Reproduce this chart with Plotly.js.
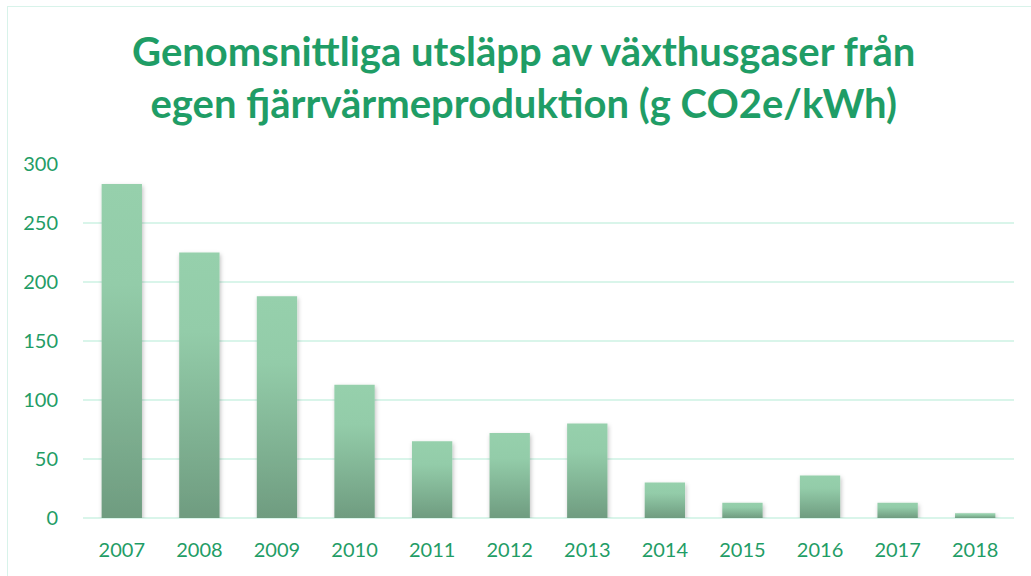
<!DOCTYPE html>
<html>
<head>
<meta charset="utf-8">
<script src="https://cdn.plot.ly/plotly-3.0.1.min.js"></script>
<style>
html,body{margin:0;padding:0;background:#fff;}
#wrap{position:relative;width:1031px;height:576px;overflow:hidden;}
#frame{position:absolute;left:7px;top:6px;width:1040px;height:600px;border:1.5px solid #d8f3ea;box-sizing:border-box;pointer-events:none;}
#chart{position:absolute;left:0;top:0;width:1031px;height:576px;}
</style>
</head>
<body>
<div id="wrap"><div id="chart"></div><div id="frame"></div></div>
<script>
const years = ['2007','2008','2009','2010','2011','2012','2013','2014','2015','2016','2017','2018'];
const emissions = [283, 225, 188, 113, 65, 72, 80, 30, 13, 36, 13, 4];
const yTicks = [0, 50, 100, 150, 200, 250, 300];
const titleText = 'Genomsnittliga utsläpp av växthusgaser från<br>egen fjärrvärmeproduktion (g CO2e/kWh)';

const green = '#1f9d66';
const trace = {
  type: 'bar',
  x: years,
  y: emissions,
  marker: {color: '#86c2a0', line: {width: 0}},
  hoverinfo: 'x+y'
};
const layout = {
  width: 1031, height: 576,
  margin: {l: 83, r: 17, t: 164, b: 58},
  paper_bgcolor: '#ffffff', plot_bgcolor: '#ffffff',
  bargap: 0.48,
  showlegend: false,
  title: {
    text: titleText,
    font: {family: 'Lato, sans-serif', size: 40, color: green, weight: 'bold'},
    x: 0.508, xanchor: 'center',
    y: 0.886, yref: 'container', yanchor: 'top'
  },
  xaxis: {
    type: 'category',
    tickfont: {family: 'Lato, sans-serif', size: 20, color: green},
    showgrid: false, zeroline: false, showline: false,
    ticks: 'outside', ticklen: 14, tickcolor: 'rgba(0,0,0,0)'
  },
  yaxis: {
    range: [0, 300],
    tickvals: yTicks,
    tickfont: {family: 'Lato, sans-serif', size: 20, color: green},
    showgrid: true, gridcolor: '#d9f5ea', gridwidth: 2,
    zeroline: true, zerolinecolor: '#d9f5ea', zerolinewidth: 2,
    showline: false,
    ticks: 'outside', ticklen: 20, tickcolor: 'rgba(0,0,0,0)'
  }
};
Plotly.newPlot('chart', [trace], layout, {displayModeBar: false, staticPlot: true}).then(function(gd){
  const svg = gd.querySelector('svg.main-svg');
  const ns = 'http://www.w3.org/2000/svg';
  let defs = svg.querySelector('defs');
  if (!defs) { defs = document.createElementNS(ns, 'defs'); svg.insertBefore(defs, svg.firstChild); }
  const grad = document.createElementNS(ns, 'linearGradient');
  grad.setAttribute('id', 'barGrad');
  grad.setAttribute('x1', '0'); grad.setAttribute('y1', '0');
  grad.setAttribute('x2', '0'); grad.setAttribute('y2', '1');
  [['0', '#96d0ac'], ['0.3', '#93cca9'], ['1', '#6f9c80']].forEach(function(s){
    const st = document.createElementNS(ns, 'stop');
    st.setAttribute('offset', s[0]); st.setAttribute('stop-color', s[1]);
    grad.appendChild(st);
  });
  defs.appendChild(grad);
  const filt = document.createElementNS(ns, 'filter');
  filt.setAttribute('id', 'barShadow');
  filt.setAttribute('x', '-30%'); filt.setAttribute('y', '-10%');
  filt.setAttribute('width', '160%'); filt.setAttribute('height', '130%');
  filt.innerHTML = '<feDropShadow dx="1" dy="2" stdDeviation="2" flood-color="#000" flood-opacity="0.25"/>';
  defs.appendChild(filt);
  gd.querySelectorAll('.bars .point path').forEach(function(p){
    p.style.fill = 'url(#barGrad)';
    p.setAttribute('filter', 'url(#barShadow)');
  });
});
</script>
</body>
</html>
